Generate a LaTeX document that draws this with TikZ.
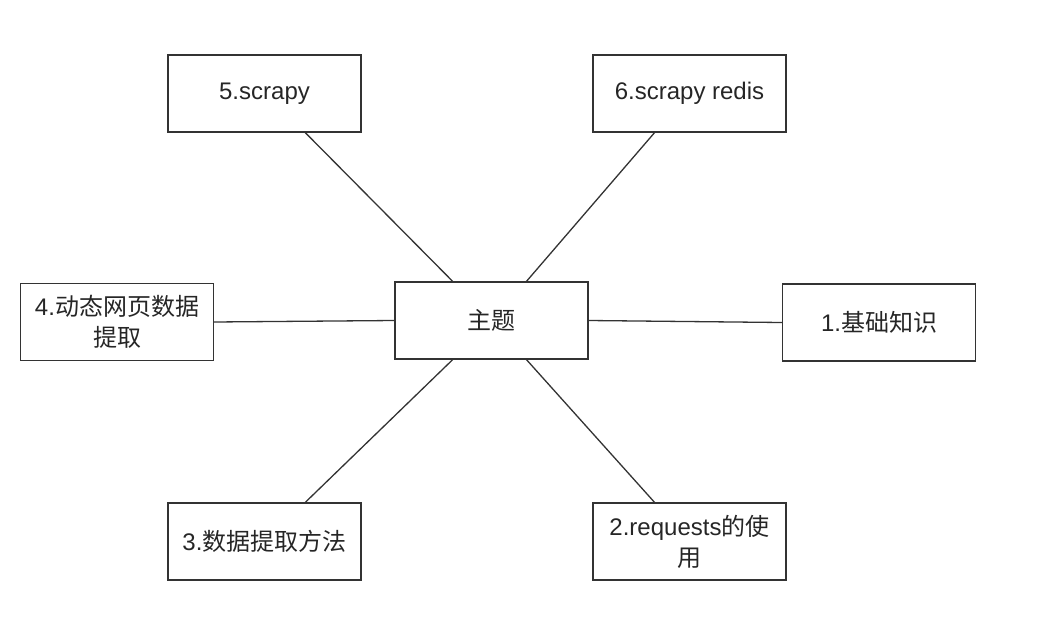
\documentclass[tikz,border=0pt]{standalone}
\usepackage{fontspec}
\setmainfont{Liberation Sans}
\newfontfamily\cjk{Noto Sans CJK SC}
\usetikzlibrary{calc}
\begin{document}
\begin{tikzpicture}[x=1pt,y=-1pt,
  box/.style={draw=black!80,line width=1.3pt,minimum width=193pt,minimum height=77pt,
    inner sep=0pt,align=center,font=\fontsize{24}{31}\selectfont,text=black!85},
  link/.style={draw=black!80,line width=1.3pt}]
\useasboundingbox (0,0) rectangle (1043,642);
\node[box] (c) at (491.5,320.5) {{\cjk 主题}};
\node[box] (s5) at (264.5,93.5) {5.scrapy};
\node[box] (s6) at (689.5,93.5) {6.scrapy redis};
\node[box] (s4) at (117,322) {4.{\cjk 动态网页数据}\\{\cjk 提取}};
\node[box] (s1) at (879,322.5) {1.{\cjk 基础知识}};
\node[box] (s3) at (264.5,541.5) {3.{\cjk 数据提取方法}};
\node[box] (s2) at (689.5,541.5) {2.requests{\cjk 的使}\\{\cjk 用}};
\draw[link] ($(s5.south west)!0.71!(s5.south east)$) -- ($(c.north west)!0.30!(c.north east)$);
\draw[link] ($(s6.south west)!0.32!(s6.south east)$) -- ($(c.north west)!0.68!(c.north east)$);
\draw[link] (s4.east) -- (c.west);
\draw[link] (c.east) -- (s1.west);
\draw[link] ($(s3.north west)!0.71!(s3.north east)$) -- ($(c.south west)!0.30!(c.south east)$);
\draw[link] ($(s2.north west)!0.32!(s2.north east)$) -- ($(c.south west)!0.68!(c.south east)$);
\end{tikzpicture}
\end{document}
